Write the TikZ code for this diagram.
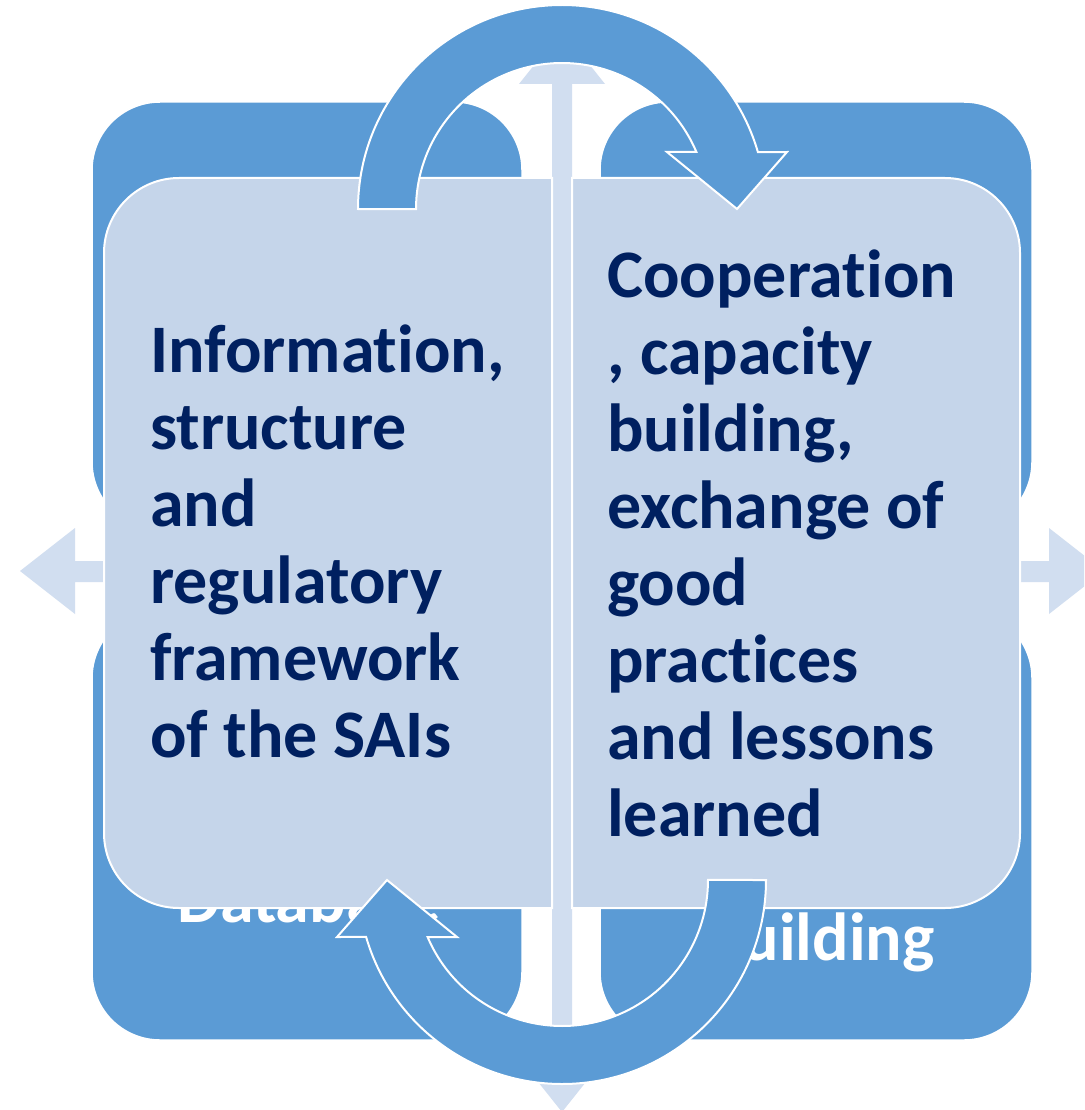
\documentclass[tikz,border=0pt]{standalone}
\usepackage{fontspec}
\setmainfont{Carlito}[Ligatures=CommonOff]
\usepackage{tikz}

\definecolor{quadblue}{HTML}{5B9BD5}
\definecolor{panelblue}{HTML}{C5D5EA}
\definecolor{shaftblue}{HTML}{D1DEF0}
\definecolor{navy}{HTML}{002060}

\begin{document}
\begin{tikzpicture}[x=1pt, y=-1pt,
  quad/.style={fill=quadblue, draw=white, line width=1.5pt, rounded corners=68pt},
  panel/.style={fill=panelblue, draw=white, line width=2pt},
  dbl/.style={fill=shaftblue},
  curvarrow/.style={fill=quadblue, draw=white, line width=2pt},
  lbl/.style={text=navy, font=\fontsize{68}{77}\selectfont\bfseries, align=left, inner sep=0pt, anchor=west},
  hid/.style={text=white, font=\fontsize{68}{77}\selectfont\bfseries, inner sep=0pt, anchor=base west}]
\clip (0,0) rectangle (1084,1110);
\fill[white] (0,0) rectangle (1084,1110);

\draw[quad] (92,102) rectangle (522,530);
\draw[quad] (600,102) rectangle (1032,530);
\draw[quad] (92,610) rectangle (522,1040);
\draw[quad] (600,610) rectangle (1032,1040);

\fill[dbl] (562,30) -- (605,84) -- (572,84) -- (572,1058) -- (605,1058) -- (562,1112)
  -- (519,1058) -- (552,1058) -- (552,84) -- (519,84) -- cycle;
\fill[dbl] (20,571) -- (75,528) -- (75,561) -- (1049,561) -- (1049,528) -- (1104,571)
  -- (1049,614) -- (1049,582) -- (75,582) -- (75,614) -- cycle;

\node[hid] (db) at (177,922) {Database};
\node[hid] (bld) at (706,960) {building};

\draw[panel] (552,178) -- (179,178) arc(270:180:75) -- (104,833) arc(180:90:75) -- (552,908) -- cycle;
\draw[panel] (572,178) -- (945,178) arc(270:360:75) -- (1020,833) arc(0:90:75) -- (572,908) -- cycle;

\node[lbl] (info) at (150,541) {Information,\\structure\\and\\regulatory\\framework\\of the SAIs};
\node[lbl] (coop) at (607,543) {Cooperation\\, capacity\\building,\\exchange of\\good\\practices\\and lessons\\learned};

\draw[curvarrow] (358,209) arc(180:343.8:204) -- (787,152) -- (737,209) -- (667,152)
  -- (696.4,152) arc(337:180:146) -- cycle;
\draw[curvarrow] (766,880) arc(0:163.8:204) -- (337,937) -- (387,880) -- (457,937)
  -- (427.6,937) arc(157:0:146) -- cycle;
\end{tikzpicture}
\end{document}
